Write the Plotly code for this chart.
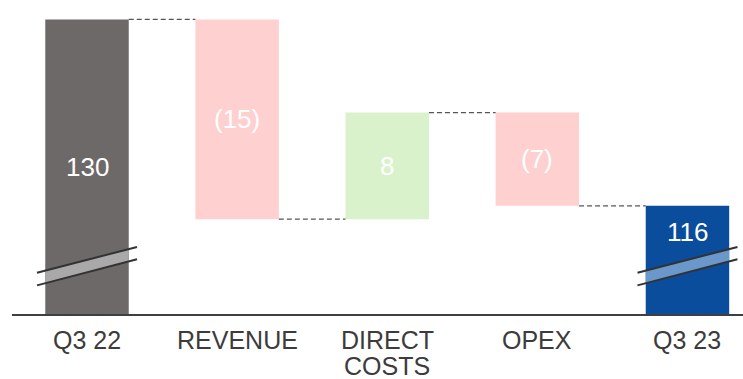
import plotly.graph_objects as go

# Bridge data: opening total, movements, closing total
categories = ["Q3 22", "REVENUE", "DIRECT\nCOSTS", "OPEX", "Q3 23"]
opening_value = 130
movement_values = [-15, 8, -7]
closing_value = 116

# Styling
FONT = "Liberation Sans, Arial, sans-serif"
TEXT_DARK = "#3d3b3b"
COL_OPEN = "#6d6969"
COL_CLOSE = "#0a4d9c"
COL_UP = "#daf2cc"
COL_DOWN = "#ffd0d0"
BREAK_OPEN = "#a9a9a9"
BREAK_CLOSE = "#6b98cb"
BAR_W = 0.556
Y_RANGE = [107.80, 131.458]
X_RANGE = [-0.5796, 4.370]


def fmt(v):
    return f"({abs(v)})" if v < 0 else f"{v}"


# cumulative levels between the bars
levels = [opening_value]
for m in movement_values:
    levels.append(levels[-1] + m)

fig = go.Figure()

# totals drawn from zero; the axis floor cuts them (broken axis)
fig.add_trace(go.Bar(
    x=[0, 4], y=[opening_value, closing_value], base=[0, 0],
    width=BAR_W, marker=dict(color=[COL_OPEN, COL_CLOSE], line=dict(width=0)),
    hoverinfo="skip", showlegend=False,
))

# floating movement bars
fig.add_trace(go.Bar(
    x=[1, 2, 3], y=movement_values, base=levels[:-1],
    width=BAR_W,
    marker=dict(color=[COL_UP if m > 0 else COL_DOWN for m in movement_values],
                line=dict(width=0)),
    hoverinfo="skip", showlegend=False,
))

shapes = []
annotations = []

# dashed connectors between neighbouring bars
conn_levels = [opening_value] + levels[1:]
for i, lv in enumerate(conn_levels):
    shapes.append(dict(
        type="line", xref="x", yref="y",
        x0=i + BAR_W / 2, x1=i + 1 - BAR_W / 2, y0=lv, y1=lv,
        line=dict(color="#555555", width=1.2, dash="5px,3px"),
    ))

# axis-break markers on the total bars
half_line = 0.333
up_l, up_r = 0.134, 0.216
lo_l, lo_r = 0.094, 0.177


def lerp(a, b, t):
    return a + (b - a) * t


for xi, fill in [(0, BREAK_OPEN), (4, BREAK_CLOSE)]:
    t0 = (half_line - BAR_W / 2) / (2 * half_line)
    t1 = 1 - t0
    xa, xb = xi - BAR_W / 2, xi + BAR_W / 2
    path = (f"M {xa},{lerp(lo_l, lo_r, t0)} L {xb},{lerp(lo_l, lo_r, t1)} "
            f"L {xb},{lerp(up_l, up_r, t1)} L {xa},{lerp(up_l, up_r, t0)} Z")
    shapes.append(dict(type="path", xref="x", yref="paper", path=path,
                       fillcolor=fill, line=dict(width=0)))
    for yl, yr in [(up_l, up_r), (lo_l, lo_r)]:
        shapes.append(dict(type="line", xref="x", yref="paper",
                           x0=xi - half_line, x1=xi + half_line, y0=yl, y1=yr,
                           line=dict(color="#333333", width=2)))

# baseline
shapes.append(dict(type="line", xref="x", yref="paper",
                   x0=-0.5, x1=X_RANGE[1], y0=0, y1=0,
                   line=dict(color="#3f3f3f", width=2)))

label_font = dict(family=FONT, size=26, color="white")

# value labels
annotations.append(dict(x=0, y=(opening_value + Y_RANGE[0]) / 2, text=fmt(opening_value),
                        showarrow=False, font=label_font, yanchor="middle"))
for i, m in enumerate(movement_values):
    annotations.append(dict(x=i + 1, y=levels[i] + m / 2, text=fmt(m),
                            showarrow=False, font=label_font, yanchor="middle"))
annotations.append(dict(x=4, y=closing_value, text=fmt(closing_value),
                        showarrow=False, font=label_font, yanchor="middle", yshift=-26))

# category labels below the baseline
for i, cat in enumerate(categories):
    for j, line in enumerate(cat.split("\n")):
        annotations.append(dict(
            x=i, xref="x", y=0, yref="paper", text=line, showarrow=False,
            font=dict(family=FONT, size=25, color=TEXT_DARK),
            yanchor="middle", yshift=-25 - 26 * j, borderpad=0,
        ))

fig.update_layout(
    width=743, height=379,
    margin=dict(l=0, r=0, t=0, b=64),
    paper_bgcolor="white", plot_bgcolor="white",
    barmode="overlay",
    xaxis=dict(range=X_RANGE, visible=False, fixedrange=True),
    yaxis=dict(range=Y_RANGE, visible=False, fixedrange=True),
    shapes=shapes, annotations=annotations,
)

fig.write_html("out.html", include_plotlyjs=True, config={"displayModeBar": False})
